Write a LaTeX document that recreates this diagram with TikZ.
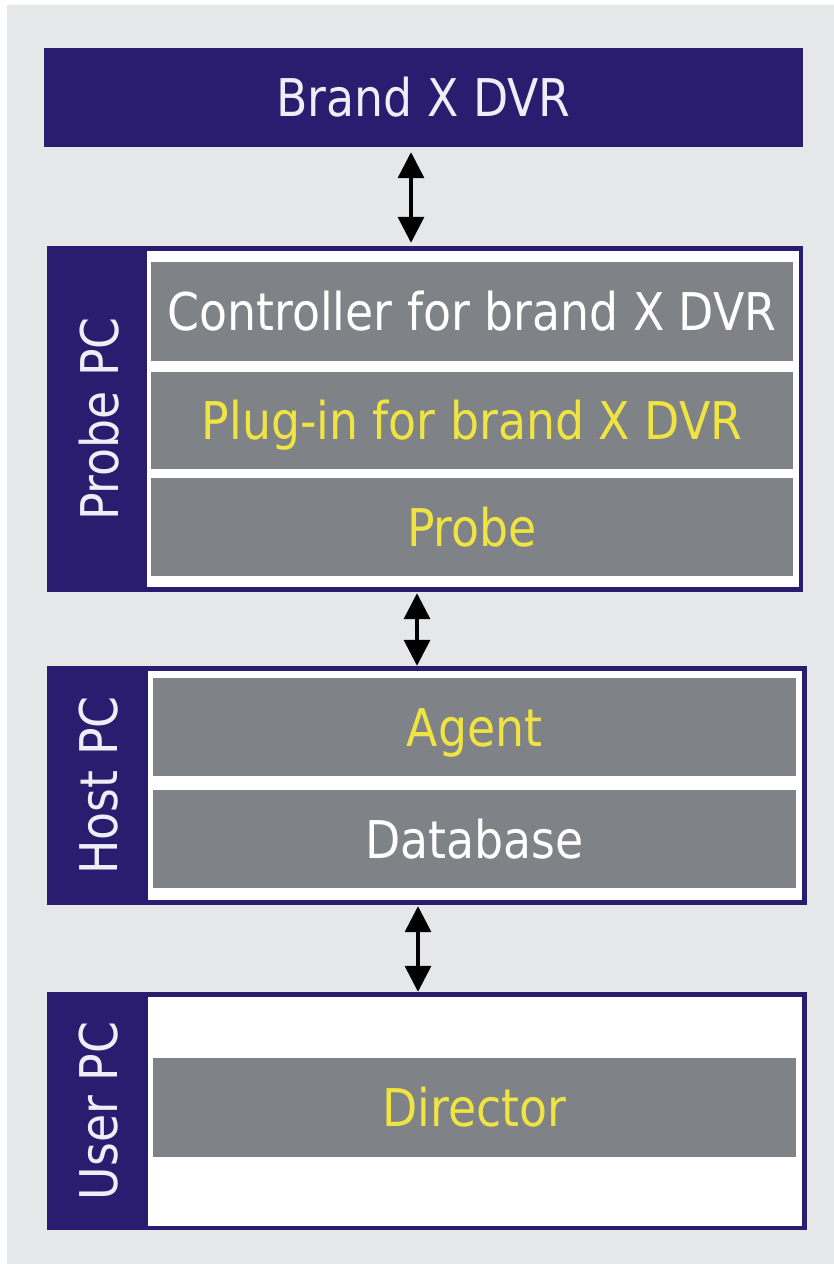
\documentclass[tikz,border=0pt]{standalone}
\usepackage{fontspec}
\setmainfont{DejaVu Sans}[FakeStretch=0.88]
\usetikzlibrary{arrows.meta}
\definecolor{navy}{RGB}{42,28,110}
\definecolor{cellgray}{RGB}{127,131,135}
\definecolor{bggray}{RGB}{230,231,233}
\definecolor{txtyellow}{RGB}{240,228,66}
\definecolor{txtwhite}{RGB}{238,238,246}
\tikzset{
  bigfont/.style={font=\fontsize{52}{60}\selectfont, text height=38pt, text depth=0pt},
  cell/.style={fill=cellgray, inner sep=0pt, bigfont},
  outerbox/.style={fill=navy, inner sep=0pt},
  innerbox/.style={fill=white, inner sep=0pt},
  sidelabel/.style={rotate=90, text=txtwhite, bigfont, inner sep=0pt},
  arr/.style={line width=3.5pt, {Triangle[width=26pt,length=26pt]}-{Triangle[width=26pt,length=26pt]}},
}
\begin{document}
\begin{tikzpicture}[x=1pt,y=-1pt]
\useasboundingbox (0,0) rectangle (834,1264);
\fill[white] (0,0) rectangle (834,1264);
\fill[bggray] (7,5) rectangle (834,1264);

% Brand X DVR
\node[outerbox, minimum width=759pt, minimum height=99pt, text=txtwhite, bigfont] (brand) at (423.5,97.5) {Brand X DVR};

% Probe PC
\node[outerbox, minimum width=756pt, minimum height=346pt] (probe) at (425,419) {};
\node[innerbox, minimum width=652pt, minimum height=336pt] (probein) at (473,419) {};
\node[sidelabel] (probelbl) at (99.5,419) {Probe PC};
\node[cell, minimum width=642pt, minimum height=99pt, text=white] (ctrl) at (472,311.5) {Controller for brand X DVR};
\node[cell, minimum width=642pt, minimum height=97pt, text=txtyellow] (plugin) at (472,420.5) {Plug-in for brand X DVR};
\node[cell, minimum width=642pt, minimum height=98pt, text=txtyellow] (probecell) at (472,527) {Probe};

% Host PC
\node[outerbox, minimum width=760pt, minimum height=239pt] (host) at (427,785.5) {};
\node[innerbox, minimum width=654pt, minimum height=229pt] (hostin) at (475,785.5) {};
\node[sidelabel] (hostlbl) at (98.5,785.5) {Host PC};
\node[cell, minimum width=643pt, minimum height=98pt, text=txtyellow] (agent) at (474.5,727) {Agent};
\node[cell, minimum width=643pt, minimum height=98pt, text=white] (db) at (474.5,839) {Database};

% User PC
\node[outerbox, minimum width=760pt, minimum height=238pt] (user) at (427,1111) {};
\node[innerbox, minimum width=654pt, minimum height=229pt] (userin) at (475,1111.5) {};
\node[sidelabel] (userlbl) at (98.5,1111) {User PC};
\node[cell, minimum width=643pt, minimum height=99pt, text=txtyellow] (director) at (474.5,1107.5) {Director};

% Arrows
\coordinate (ax1) at (411,0);
\coordinate (ax2) at (417,0);
\coordinate (ax3) at (418,0);
\draw[arr, shorten <=5pt, shorten >=3pt] (brand.south -| ax1) -- (probe.north -| ax1);
\draw[arr, shorten <=1pt, shorten >=0pt] (probe.south -| ax2) -- (host.north -| ax2);
\draw[arr, shorten <=1pt, shorten >=0pt] (host.south -| ax3) -- (user.north -| ax3);
\end{tikzpicture}
\end{document}
